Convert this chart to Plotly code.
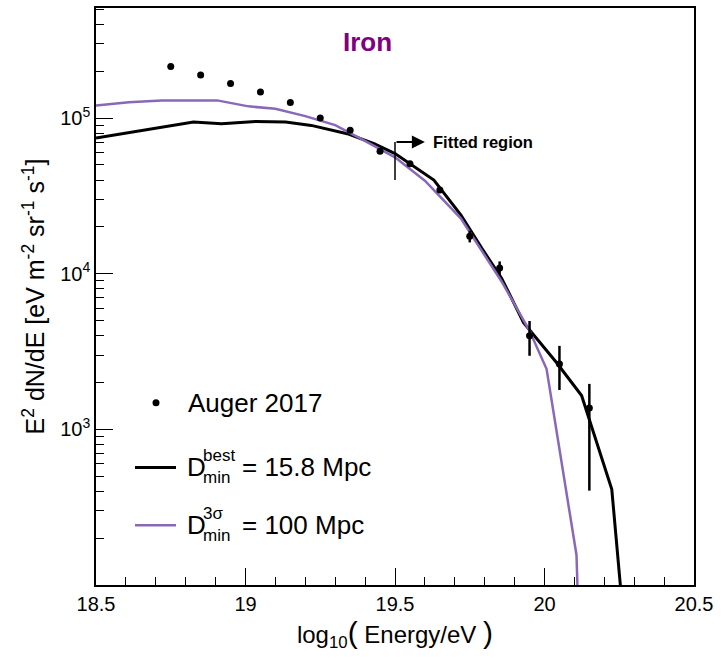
import plotly.graph_objects as go
import numpy as np

# ---------------- data ----------------
auger_x = [18.75, 18.85, 18.95, 19.05, 19.15, 19.25, 19.35, 19.45, 19.55, 19.65, 19.75, 19.85, 19.95, 20.05, 20.15]
auger_y = [2.15e5, 1.89e5, 1.67e5, 1.47e5, 1.26e5, 1.00e5, 8.35e4, 6.12e4, 5.1e4, 3.45e4, 1.74e4, 1.09e4, 3.99e3, 2.63e3, 1.37e3]
auger_err_up = [2e3, 2e3, 2e3, 2e3, 2e3, 2e3, 1.8e3, 1.5e3, 1.5e3, 1.5e3, 1.5e3, 1.1e3, 980, 810, 590]
auger_err_dn = [2e3, 2e3, 2e3, 2e3, 2e3, 2e3, 1.8e3, 1.5e3, 1.5e3, 1.5e3, 1.5e3, 1.0e3, 1020, 840, 966]

best_x = [18.5, 18.826, 18.92, 19.034, 19.134, 19.22, 19.34, 19.43, 19.5, 19.63, 19.72, 19.79, 19.856, 19.93, 20.04, 20.124, 20.225, 20.26]
best_y = [7.45e4, 9.43e4, 9.2e4, 9.52e4, 9.43e4, 8.98e4, 7.94e4, 6.85e4, 5.92e4, 4.0e4, 2.39e4, 1.46e4, 9.4e3, 4.85e3, 2.69e3, 1.65e3, 412, 73]

sig_x = [18.5, 18.61, 18.72, 18.905, 19.01, 19.1, 19.2, 19.3, 19.39, 19.5, 19.6, 19.72, 19.856, 19.95, 20.007, 20.107, 20.115]
sig_y = [1.205e5, 1.265e5, 1.30e5, 1.30e5, 1.19e5, 1.147e5, 1.03e5, 9.02e4, 7.31e4, 5.6e4, 3.96e4, 2.27e4, 8.95e3, 4.3e3, 2.44e3, 156, 50]

x_ticks = [18.5, 19, 19.5, 20, 20.5]
x_ticktext = ["18.5", "19", "19.5", "20", "20.5"]
y_ticks = [1e3, 1e4, 1e5]
y_ticktext = ["10<sup>3</sup>", "10<sup>4</sup>", "10<sup>5</sup>"]

fit_start = 19.5
fit_arrow_end = 19.6
fit_y_low, fit_y_high = 4.0e4, 7.03e4

purple = "#8a68b8"
FONT = "Liberation Sans, Arial, Helvetica, sans-serif"

fig = go.Figure()

fig.add_trace(go.Scatter(x=best_x, y=best_y, mode="lines",
                         line=dict(color="black", width=3), showlegend=False))
fig.add_trace(go.Scatter(x=sig_x, y=sig_y, mode="lines",
                         line=dict(color=purple, width=2.5), showlegend=False))
fig.add_trace(go.Scatter(x=auger_x, y=auger_y, mode="markers",
                         marker=dict(color="black", size=7),
                         error_y=dict(type="data", symmetric=False, array=auger_err_up,
                                      arrayminus=auger_err_dn, color="black",
                                      thickness=2.5, width=0),
                         showlegend=False))

# minor ticks
y_minor = []
for d in [100, 1000, 10000, 100000]:
    for k in range(2, 10):
        v = k * d
        if v <= 5.1e5:
            y_minor.append(v)
x_minor = [round(18.5 + 0.1 * i, 2) for i in range(21)]

fig.update_xaxes(range=[18.5, 20.5], tickvals=x_ticks, ticktext=x_ticktext,
                 ticks="inside", ticklen=17, tickwidth=1, tickcolor="black",
                 showline=True, linecolor="black", linewidth=1.5, mirror=True,
                 showgrid=False, zeroline=False,
                 tickfont=dict(size=20, family=FONT, color="black"),
                 minor=dict(tickvals=x_minor, ticks="inside", ticklen=8, tickcolor="black", tickwidth=1),
                 title=dict(text="log<sub>10</sub><span style='font-size:30px'>(</span> Energy/eV <span style='font-size:30px'>)</span>",
                            font=dict(size=24, family=FONT, color="black"), standoff=12))
fig.update_yaxes(type="log", range=[2, np.log10(5.1e5)], tickvals=y_ticks, ticktext=y_ticktext,
                 ticks="inside", ticklen=17, tickwidth=1, tickcolor="black",
                 showline=True, linecolor="black", linewidth=1.5, mirror=True,
                 showgrid=False, zeroline=False,
                 tickfont=dict(size=20, family=FONT, color="black"),
                 minor=dict(tickvals=y_minor, ticks="inside", ticklen=8, tickcolor="black", tickwidth=1),
                 title=dict(text="E<sup>2</sup> dN/dE [eV m<sup>-2</sup> sr<sup>-1</sup> s<sup>-1</sup>]",
                            font=dict(size=25, family=FONT, color="black"), standoff=8))

W, H = 728, 658
L, R, T, B = 96, 34, 6, 73
pw, ph = W - L - R, H - T - B

def px(xpix):
    return (xpix - L) / pw

def py(ypix):
    return (H - B - ypix) / ph

ann = []
shapes = []
# title
ann.append(dict(x=px(367), y=py(40), xref="paper", yref="paper", text="<b>Iron</b>",
                showarrow=False, font=dict(size=26, family=FONT, color="#800080"),
                xanchor="center", yanchor="middle"))
# fitted region marker
shapes.append(dict(type="line", xref="x", yref="y", x0=fit_start, x1=fit_start,
                   y0=fit_y_low, y1=fit_y_high, line=dict(color="black", width=1.5)))
ann.append(dict(x=fit_arrow_end, y=np.log10(fit_y_high), ax=fit_start, ay=np.log10(fit_y_high),
                xref="x", yref="y", axref="x", ayref="y", text="", showarrow=True,
                arrowhead=2, arrowsize=1.3, arrowwidth=2, arrowcolor="black"))
ann.append(dict(x=fit_arrow_end + 0.022, y=np.log10(fit_y_high), xref="x", yref="y",
                text="<b>Fitted region</b>", showarrow=False, xanchor="left", yanchor="middle",
                font=dict(size=16.5, family=FONT, color="black")))

# manual legend
shapes.append(dict(type="circle", xref="paper", yref="paper", xsizemode="pixel", ysizemode="pixel",
                   xanchor=px(156), yanchor=py(402), x0=-3.5, x1=3.5, y0=-3.5, y1=3.5,
                   fillcolor="black", line=dict(color="black", width=0)))
shapes.append(dict(type="line", xref="paper", yref="paper", x0=px(135), x1=px(176),
                   y0=py(467), y1=py(467), line=dict(color="black", width=3)))
shapes.append(dict(type="line", xref="paper", yref="paper", x0=px(135), x1=px(176),
                   y0=py(525), y1=py(525), line=dict(color=purple, width=2.5)))

lf = dict(size=26, family=FONT, color="black")
sf = dict(size=17, family=FONT, color="black")
ann.append(dict(x=px(186), y=py(402), xref="paper", yref="paper", text="Auger 2017",
                showarrow=False, xanchor="left", yanchor="middle", font=lf))
for yc, sup, rest in [(467, "best", "= 15.8 Mpc"), (525, "3σ", "= 100 Mpc")]:
    ann.append(dict(x=px(185), y=py(yc), xref="paper", yref="paper", text="D",
                    showarrow=False, xanchor="left", yanchor="middle", font=lf))
    ann.append(dict(x=px(201), y=py(yc - 12), xref="paper", yref="paper", text=sup,
                    showarrow=False, xanchor="left", yanchor="middle", font=sf))
    ann.append(dict(x=px(201), y=py(yc + 10), xref="paper", yref="paper", text="min",
                    showarrow=False, xanchor="left", yanchor="middle", font=sf))
    ann.append(dict(x=px(240), y=py(yc), xref="paper", yref="paper", text=rest,
                    showarrow=False, xanchor="left", yanchor="middle", font=lf))

fig.update_layout(width=W, height=H, margin=dict(l=L, r=R, t=T, b=B),
                  plot_bgcolor="white", paper_bgcolor="white",
                  annotations=ann, shapes=shapes, showlegend=False,
                  font=dict(family=FONT, color="black"))

fig.write_html("out.html")
